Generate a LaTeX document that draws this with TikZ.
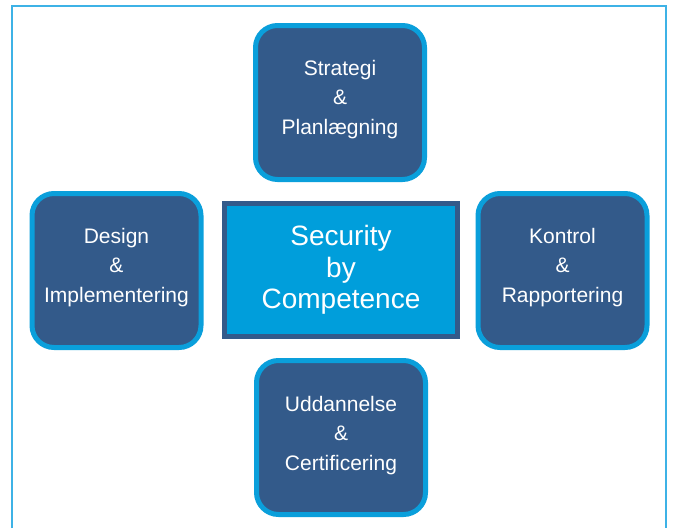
\documentclass[tikz,border=0pt]{standalone}
\usepackage{fontspec}
\setmainfont{Liberation Sans}
\definecolor{boxfill}{HTML}{335A8A}
\definecolor{boxrim}{HTML}{0A9FDB}
\definecolor{midfill}{HTML}{009EDB}
\definecolor{framec}{HTML}{3DB2E6}
\begin{document}
\begin{tikzpicture}[x=1pt,y=-1pt,
  area/.style={draw=boxrim, line width=5pt, fill=boxfill, rounded corners=22pt,
    minimum width=169pt, minimum height=154pt, inner sep=0pt},
  areatext/.style={text=white, align=center, font=\fontsize{21}{29.5}\selectfont},
  core/.style={draw=boxfill, line width=5pt, fill=midfill,
    minimum width=233pt, minimum height=133pt, inner sep=0pt}]
\useasboundingbox (0,0) rectangle (674,528);
\draw[framec, line width=2pt] (12,528) -- (12,6) -- (666,6) -- (666,528);
\node[area, label={[areatext, yshift=3pt]center:Strategi\\\&\\Planlægning}] (top) at (340,102.5) {};
\node[area, label={[areatext, yshift=3pt]center:Design\\\&\\Implementering}] (left) at (116.5,270.5) {};
\node[area, label={[areatext, yshift=3pt]center:Kontrol\\\&\\Rapportering}] (right) at (562.5,270.5) {};
\node[area, label={[areatext, yshift=2pt]center:Uddannelse\\\&\\Certificering}] (bottom) at (341,437.5) {};
\node[core, text=white, align=center, font=\fontsize{28}{31.5}\selectfont] (mid) at (341,270) {Security\\by\\Competence};
\end{tikzpicture}
\end{document}
